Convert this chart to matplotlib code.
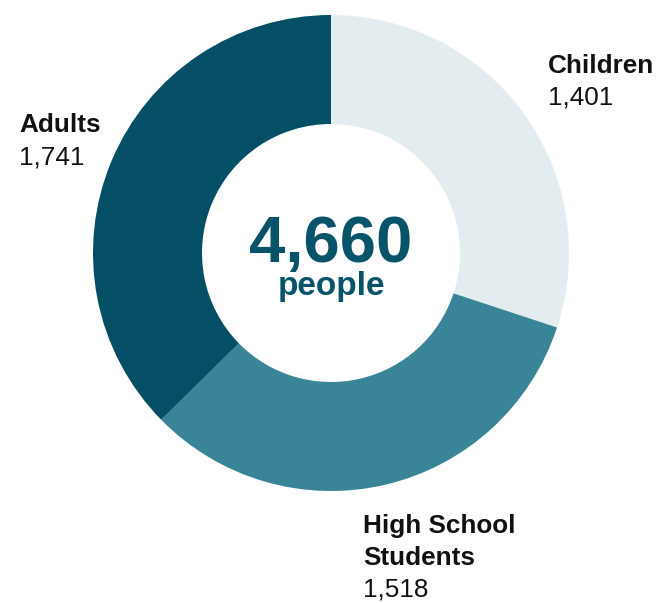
import matplotlib
matplotlib.use("Agg")
import matplotlib.pyplot as plt

categories = ["Children", "High School\nStudents", "Adults"]
values = [1401, 1518, 1741]
total_label = "4,660"
total_sub = "people"
colors = ["#e3edf0", "#3a8497", "#044f66"]
text_dark = "#07536a"

W, H = 659, 603
fig = plt.figure(figsize=(W / 100, H / 100), dpi=100)
ax = fig.add_axes([0, 0, 1, 1])
ax.set_xlim(0, W)
ax.set_ylim(0, H)
ax.set_aspect("equal")
ax.axis("off")

cx, cy, R = 331, H - 253, 238
ax.pie(values, colors=colors, startangle=90, counterclock=False,
       center=(cx, cy), radius=R,
       wedgeprops=dict(width=R - 129, edgecolor="none"))
ax.set_xlim(0, W)
ax.set_ylim(0, H)

fam = ["Liberation Sans", "DejaVu Sans"]
ax.text(cx, H - 262, total_label, ha="center", va="baseline", fontsize=47,
        fontweight="heavy", color=text_dark, family=fam)
ax.text(cx, H - 295, total_sub, ha="center", va="baseline", fontsize=24,
        fontweight="bold", color=text_dark, family=fam)

fs = 18.8
# label positions (x, first baseline) in pixels
label_pos = {0: (548, 73), 1: (363, 533), 2: (19, 132)}
lh = 32
for i, (cat, v) in enumerate(zip(categories, values)):
    x, b = label_pos[i]
    lines = cat.split("\n")
    for j, ln in enumerate(lines):
        ax.text(x, H - (b + j * lh), ln, ha="left", va="baseline", fontsize=fs,
                fontweight="bold", color="#111111", family=fam)
    ax.text(x, H - (b + len(lines) * lh), f"{v:,}", ha="left", va="baseline",
            fontsize=fs, color="#111111", family=fam)

fig.savefig("out.png", dpi=100)
